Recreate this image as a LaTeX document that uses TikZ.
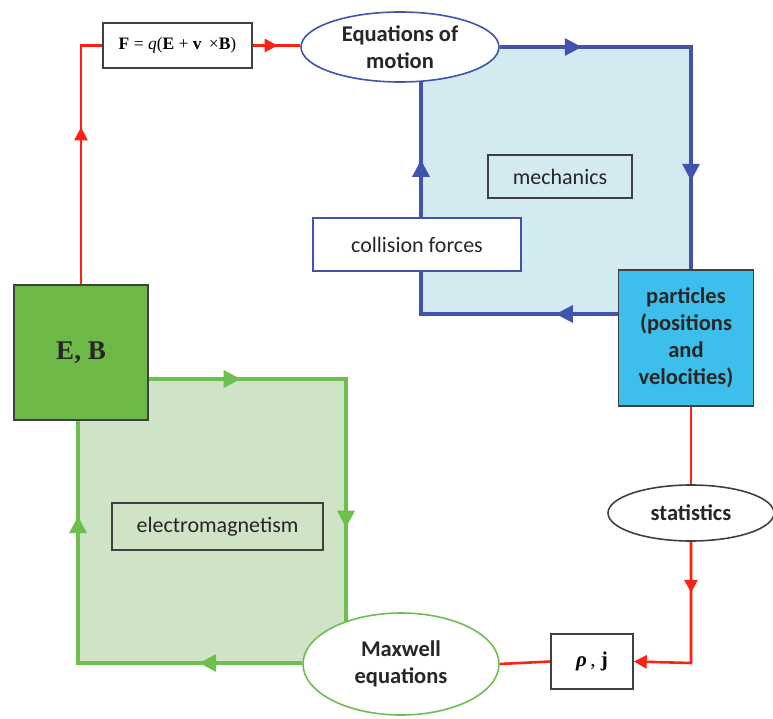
\documentclass[tikz,border=0pt]{standalone}
\usepackage{fontspec}
\setmainfont{Carlito}
\newfontfamily\tnr{Liberation Serif}
\usetikzlibrary{shapes.geometric,arrows.meta,decorations.markings}
\pgfdeclarelayer{bg}\pgfdeclarelayer{ln}
\pgfsetlayers{bg,ln,main}
\definecolor{bluel}{HTML}{4054AF}
\definecolor{greenl}{HTML}{6EBE50}
\definecolor{redl}{HTML}{FF2014}
\definecolor{bluebg}{HTML}{D2EAF0}
\definecolor{greenbg}{HTML}{CFE3C7}
\definecolor{ebfill}{HTML}{6DB847}
\definecolor{partfill}{HTML}{3EBEEB}
\definecolor{boxline}{HTML}{404040}
\tikzset{
  txt/.style={font=\fontsize{22}{27}\selectfont, text=black!85},
  btxt/.style={font=\bfseries\fontsize{22.5}{27}\selectfont, text=black!85},
  box/.style={draw=boxline, line width=1.4pt, inner sep=0pt, align=center},
  ell/.style={ellipse, draw, line width=1.6pt, fill=white, inner sep=0pt, align=center},
  bloop/.style={draw=bluel, line width=3.2pt},
  gloop/.style={draw=greenl, line width=3.2pt},
  rline/.style={draw=redl, line width=2.6pt},
  twoarr/.style n args={3}{decoration={markings,
      mark=at position #1 with {\arrow{Triangle[length=#3,width=#3]}},
      mark=at position #2 with {\arrow{Triangle[length=#3,width=#3]}}},
      postaction=decorate},
  onearr/.style n args={2}{decoration={markings,
      mark=at position #1 with {\arrow{Triangle[length=#2,width=#2]}}},
      postaction=decorate},
}
\begin{document}
\begin{tikzpicture}[x=1pt,y=-1pt]
\useasboundingbox (0,0) rectangle (773,719);
% nodes
\node[box, fill=white, minimum width=149pt, minimum height=45pt] (F) at (177.5,45.5)
  {\tnr\fontsize{17.5}{20}\selectfont \textbf{F} = \textit{q}(\textbf{E} + \textbf{v} \,×\textbf{B})};
\node[ell, draw=bluel, btxt, minimum width=198pt, minimum height=70pt] (eqm) at (400,47)
  {Equations of\\motion};
\node[box, txt, minimum width=144pt, minimum height=43pt] (mech) at (560,176.5) {mechanics};
\node[box, draw=bluel, fill=white, txt, minimum width=208pt, minimum height=53pt] (coll) at (417,244.5) {collision forces};
\node[box, fill=partfill, btxt, minimum width=135pt, minimum height=136pt] (part) at (686,338)
  {particles\\(positions\\and\\velocities)};
\node[box, fill=ebfill, minimum width=134pt, minimum height=135pt,
      font=\tnr\bfseries\fontsize{27}{32}\selectfont, text=black!85] (EB) at (81,352.5) {E, B};
\node[box, txt, minimum width=211pt, minimum height=47pt] (em) at (217.5,526.5) {electromagnetism};
\node[ell, draw=boxline, btxt, minimum width=166pt, minimum height=56pt] (stat) at (691,513) {statistics};
\node[box, fill=white, minimum width=82pt, minimum height=55pt] (rho) at (592,661.5)
  {\tnr\fontsize{21}{24}\selectfont\textbf{\textit{ρ}}\,, \textbf{j}};
\node[ell, draw=greenl, btxt, minimum width=196pt, minimum height=102pt] (max) at (401,664)
  {Maxwell\\equations};
% corner coordinates
\coordinate (btr) at (691,47);
\coordinate (bbl) at (421,314);
\coordinate (gtr) at (346,379);
\coordinate (gbl) at (78,663);
\coordinate (rbr) at (691,663);
% fills
\begin{pgfonlayer}{bg}
  \fill[bluebg] (bbl) rectangle (btr);
  \fill[greenbg] (gbl) rectangle (gtr);
\end{pgfonlayer}
% connectors
\begin{pgfonlayer}{ln}
  \draw[bloop, twoarr={82pt}{325pt}{17pt}] (eqm.east) -- (btr) -- (btr |- part.north);
  \draw[bloop, twoarr={62pt}{351pt}{17pt}] (part.west |- bbl) -- (bbl) -- (bbl |- eqm.center);
  \draw[gloop, twoarr={92pt}{346pt}{17pt}] (EB.east |- gtr) -- (gtr) -- (gtr |- max.center);
  \draw[gloop, twoarr={103pt}{371pt}{17pt}] (max.west |- gbl) -- (gbl) -- (gbl |- EB.south);
  \draw[rline, onearr={157pt}{13pt}] (EB.north) |- (F.west);
  \draw[rline, onearr={25pt}{13pt}] (F.east) -- (F.east -| eqm.west);
  \draw[rline] (stat.north |- part.south) -- (stat.north);
  \draw[rline, onearr={51pt}{13pt}, -{Triangle[length=13pt,width=13pt]}] (stat.south) -- (rbr) -- (rho.east);
  \draw[rline] (rho.west) -- (max.east);
\end{pgfonlayer}
\end{tikzpicture}
\end{document}
